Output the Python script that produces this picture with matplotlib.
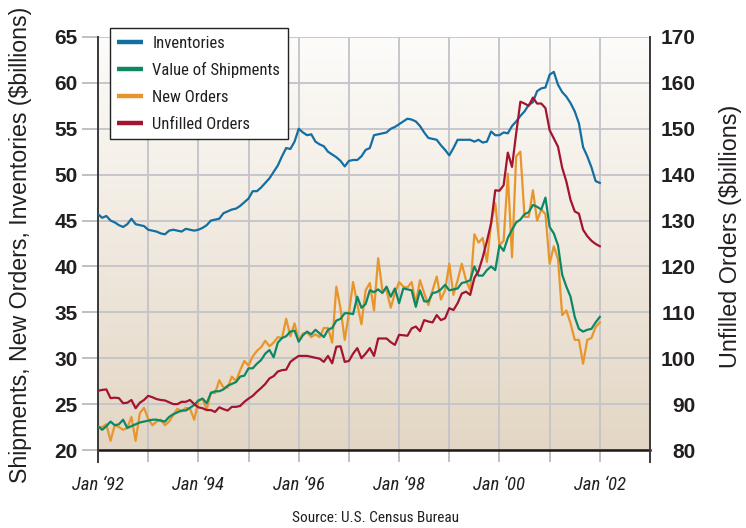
import numpy as np
import matplotlib
matplotlib.use("Agg")
import matplotlib.pyplot as plt
from matplotlib import font_manager
from matplotlib.lines import Line2D

# ---------------- data (monthly, Jan 1992 .. Jan 2002) ----------------
inventories = [
    45.7, 45.3, 45.5, 45.0, 44.8, 44.5, 44.3, 44.6, 45.2, 44.6, 44.5, 44.4,
    44.0, 43.9, 43.8, 43.6, 43.5, 43.9, 44.0, 43.9, 43.8, 44.1, 44.0, 43.9,
    44.0, 44.2, 44.5, 45.0, 45.1, 45.2, 45.8, 46.0, 46.2, 46.3, 46.6, 47.0,
    47.4, 48.2, 48.2, 48.6, 49.1, 49.6, 50.3, 51.0, 52.0, 52.9, 52.8, 53.6,
    55.0, 54.6, 54.3, 54.4, 53.6, 53.3, 53.1, 52.5, 52.2, 51.9, 51.5, 50.9,
    51.5, 51.6, 51.6, 52.0, 52.7, 52.9, 54.3, 54.4, 54.5, 54.6, 55.0, 55.2,
    55.5, 55.8, 56.1, 56.0, 55.8, 55.3, 54.6, 54.0, 53.9, 53.8, 53.2, 52.7,
    52.1, 52.9, 53.8, 53.8, 53.8, 53.8, 53.6, 53.8, 53.5, 53.6, 54.7, 54.3,
    54.3, 54.6, 54.5, 55.3, 55.8, 56.4, 56.9, 57.6, 57.9, 59.1, 59.4, 59.5,
    60.9, 61.2, 59.8, 59.0, 58.5, 57.8, 56.9, 55.6, 53.0, 52.0, 50.8, 49.3,
    49.1]

shipments = [
    22.6, 22.2, 22.6, 23.1, 22.7, 22.8, 23.3, 22.4, 22.6, 22.8, 23.0, 23.1,
    23.2, 23.3, 23.3, 23.2, 23.1, 23.6, 23.9, 24.1, 24.3, 24.3, 24.6, 24.9,
    25.4, 25.6, 25.1, 26.2, 26.4, 26.4, 26.6, 27.0, 27.2, 27.4, 28.0, 28.1,
    28.9, 28.9, 29.4, 29.8, 30.5, 30.9, 30.1, 31.7, 32.2, 32.4, 32.9, 33.0,
    31.8, 32.5, 32.9, 32.6, 33.1, 32.7, 32.3, 33.1, 33.3, 34.1, 34.3, 34.9,
    34.9, 34.8, 36.7, 35.5, 35.9, 37.4, 37.2, 37.5, 37.1, 37.8, 36.7, 37.6,
    36.0, 37.6, 37.5, 37.4, 35.6, 37.4, 36.2, 36.2, 37.1, 37.2, 37.5, 38.0,
    37.4, 37.5, 37.6, 38.2, 38.3, 38.5, 40.0, 39.0, 39.0, 39.6, 40.0, 39.6,
    42.3, 41.7, 43.1, 44.0, 44.8, 45.1, 45.7, 45.9, 46.7, 46.5, 46.2, 47.5,
    44.3, 43.6, 42.3, 39.1, 37.8, 36.7, 34.5, 33.2, 32.9, 33.1, 33.2, 33.9,
    34.5]

new_orders = [
    22.5, 22.5, 22.8, 21.0, 22.7, 22.5, 22.2, 22.4, 23.6, 21.0, 24.0, 24.6,
    23.4, 22.7, 23.1, 23.3, 22.7, 23.1, 23.8, 24.5, 24.2, 24.6, 24.5, 23.3,
    25.3, 25.6, 24.4, 26.3, 26.2, 27.6, 26.8, 26.8, 28.0, 27.5, 28.7, 29.7,
    29.2, 30.2, 30.8, 31.2, 31.9, 31.3, 31.7, 32.3, 32.2, 34.3, 32.4, 33.8,
    31.9, 32.7, 32.8, 32.3, 32.6, 32.3, 33.3, 33.3, 31.7, 37.8, 35.4, 32.0,
    34.9, 38.3, 35.9, 33.7, 37.4, 38.2, 35.2, 40.9, 37.4, 37.4, 35.5, 37.1,
    38.3, 37.8, 37.7, 38.3, 36.0, 38.5, 37.1, 35.8, 37.4, 38.9, 36.4, 37.4,
    40.3, 36.9, 38.5, 40.3, 38.5, 37.4, 43.5, 42.6, 43.1, 40.5, 44.7, 46.9,
    42.3, 42.8, 50.1, 41.0, 52.0, 52.5, 45.4, 45.4, 48.3, 45.0, 46.2, 45.7,
    40.3, 42.2, 40.8, 34.7, 35.2, 33.8, 32.0, 32.0, 29.4, 32.0, 32.2, 33.4,
    33.9]

unfilled_orders = [
    92.9, 93.1, 93.2, 91.3, 91.4, 91.3, 90.2, 90.3, 90.9, 89.1, 90.3, 90.9,
    91.8, 91.5, 91.1, 90.9, 90.8, 90.4, 90.0, 90.0, 90.5, 90.5, 90.9, 90.0,
    89.3, 89.1, 88.7, 88.7, 88.3, 89.3, 88.9, 88.6, 89.4, 89.4, 89.6, 90.5,
    91.2, 91.8, 92.7, 93.5, 94.4, 95.6, 96.1, 97.1, 97.4, 97.5, 99.2, 99.9,
    100.5, 100.5, 100.5, 100.3, 100.1, 99.9, 99.2, 100.5, 98.9, 102.5, 102.6, 99.2,
    99.4, 101.0, 102.2, 100.0, 101.0, 102.2, 100.5, 104.3, 104.3, 104.3, 103.5, 102.9,
    105.1, 105.0, 104.9, 106.5, 106.9, 105.9, 108.3, 108.0, 107.8, 109.4, 108.3, 108.7,
    110.9, 110.5, 112.0, 114.1, 114.5, 113.8, 117.5, 119.0, 122.0, 125.5, 129.4, 136.6,
    136.5, 137.7, 144.8, 141.7, 149.0, 155.9, 155.5, 155.0, 156.8, 155.5, 155.5, 154.5,
    149.7, 147.9, 146.1, 141.5, 138.5, 134.5, 132.0, 131.5, 128.0, 126.6, 125.6, 124.9,
    124.4]

start_year = 1992
tick_years = [1992, 1994, 1996, 1998, 2000, 2002]
tick_labels = ["Jan \u201892", "Jan \u201894", "Jan \u201896", "Jan \u201898", "Jan \u201800", "Jan \u201802"]
series_names = ["Inventories", "Value of Shipments", "New Orders", "Unfilled Orders"]
colors = ["#136ea3", "#0e8864", "#e8962c", "#a3142f"]

# ---------------- fonts ----------------
available = {f.name for f in font_manager.fontManager.ttflist}
def pick(*names):
    for n in names:
        if n in available:
            return n
    return "DejaVu Sans"
NARROW = pick("Liberation Sans Narrow", "Roboto Condensed", "Open Sans Condensed", "Liberation Sans")
SANS = pick("Liberation Sans", "Arial", "DejaVu Sans")

# ---------------- figure ----------------
W, H = 746, 528
fig = plt.figure(figsize=(W / 100, H / 100), dpi=100)
L, R, T, B = 98, 650, 37, 450
ax = fig.add_axes([L / W, 1 - B / H, (R - L) / W, (B - T) / H])

t = start_year + np.arange(len(inventories)) / 12.0

# gradient background
top_c = np.array([253, 252, 250]) / 255.0
bot_c = np.array([227, 214, 196]) / 255.0
fr = np.linspace(0, 1, 256)[:, None]
grad = (top_c[None, :] * (1 - fr) + bot_c[None, :] * fr)[:, None, :]
ax.imshow(grad, extent=[0, 1, 0, 1], transform=ax.transAxes, aspect="auto", zorder=0, interpolation="bilinear")

lw = 1.6
ax.plot(t, inventories, color=colors[0], lw=lw, zorder=3)
ax.plot(t, new_orders, color=colors[2], lw=lw, zorder=3)
ax.plot(t, shipments, color=colors[1], lw=lw, zorder=4)

ax.set_xlim(1992, 2003)
ax.set_ylim(20, 65)
ax.set_yticks(np.arange(20, 66, 5))
ax.set_xticks(np.arange(1992, 2004, 1))
ax.set_xticklabels([tick_labels[tick_years.index(y)] if y in tick_years else "" for y in range(1992, 2004)])

grid_c = "#c3c3c8"
ax.grid(True, color=grid_c, lw=1.3, zorder=1)
ax.set_axisbelow(True)

ax.tick_params(axis="y", length=11.5, width=1.2, color="#b5b5ba", pad=3, labelsize=15, labelcolor="#231f20")
ax.tick_params(axis="x", length=8.6, width=1.2, color="#b5b5ba", pad=10, labelsize=13.5, labelcolor="#231f20")
for lab in ax.get_yticklabels():
    lab.set_fontweight("bold")
    lab.set_family(SANS)
for lab in ax.get_xticklabels():
    lab.set_family(NARROW)
    lab.set_style("italic")

for s in ["top", "right"]:
    ax.spines[s].set_visible(False)
ax.spines["left"].set_color("#3a3a3a")
ax.spines["left"].set_linewidth(1.4)
ax.spines["bottom"].set_color("#1a1a1a")
ax.spines["bottom"].set_linewidth(1.8)

# twin axis for unfilled orders
ax2 = ax.twinx()
ax2.plot(t, unfilled_orders, color=colors[3], lw=lw, zorder=5)
ax2.set_ylim(80, 170)
ax2.set_yticks(np.arange(80, 171, 10))
ax2.tick_params(axis="y", length=0, pad=33, labelsize=15, labelcolor="#231f20")
for lab in ax2.get_yticklabels():
    lab.set_fontweight("bold")
    lab.set_family(SANS)
    lab.set_horizontalalignment("right")
for s in ["top", "left", "bottom"]:
    ax2.spines[s].set_visible(False)
ax2.spines["right"].set_color("#3a3a3a")
ax2.spines["right"].set_linewidth(1.4)

# dark end ticks (spine extensions below the axis)
for xa in (0, 1):
    ax.plot([xa, xa], [0, -0.03], transform=ax.transAxes, color="#3a3a3a", lw=1.4, clip_on=False, zorder=6)

# axis titles
fig.text(21 / W, 1 - 245 / H, "Shipments, New Orders, Inventories ($billions)", rotation=90,
         ha="center", va="center", fontsize=16.7, family=SANS, color="#231f20")
fig.text(731 / W, 1 - 236 / H, "Unfilled Orders ($billions)", rotation=90,
         ha="center", va="center", fontsize=16.8, family=SANS, color="#231f20")

# legend
handles = [Line2D([], [], color=c, lw=3.2, solid_capstyle="butt") for c in colors]
leg = ax2.legend(handles, series_names, loc="upper left", bbox_to_anchor=(110 / W, 1 - 28 / H),
                 bbox_transform=fig.transFigure, frameon=True, fancybox=False, framealpha=1,
                 edgecolor="#222222", prop={"family": NARROW, "size": 12},
                 handlelength=1.5, handletextpad=0.6, labelspacing=0.7, borderpad=0.45,
                 borderaxespad=0)
leg.get_frame().set_linewidth(1.0)
for txt in leg.get_texts():
    txt.set_color("#231f20")

fig.text(375 / W, 1 - 518 / H, "Source: U.S. Census Bureau", ha="center", va="center",
         fontsize=11, family=NARROW, color="#231f20")

fig.savefig("out.png", dpi=100)
